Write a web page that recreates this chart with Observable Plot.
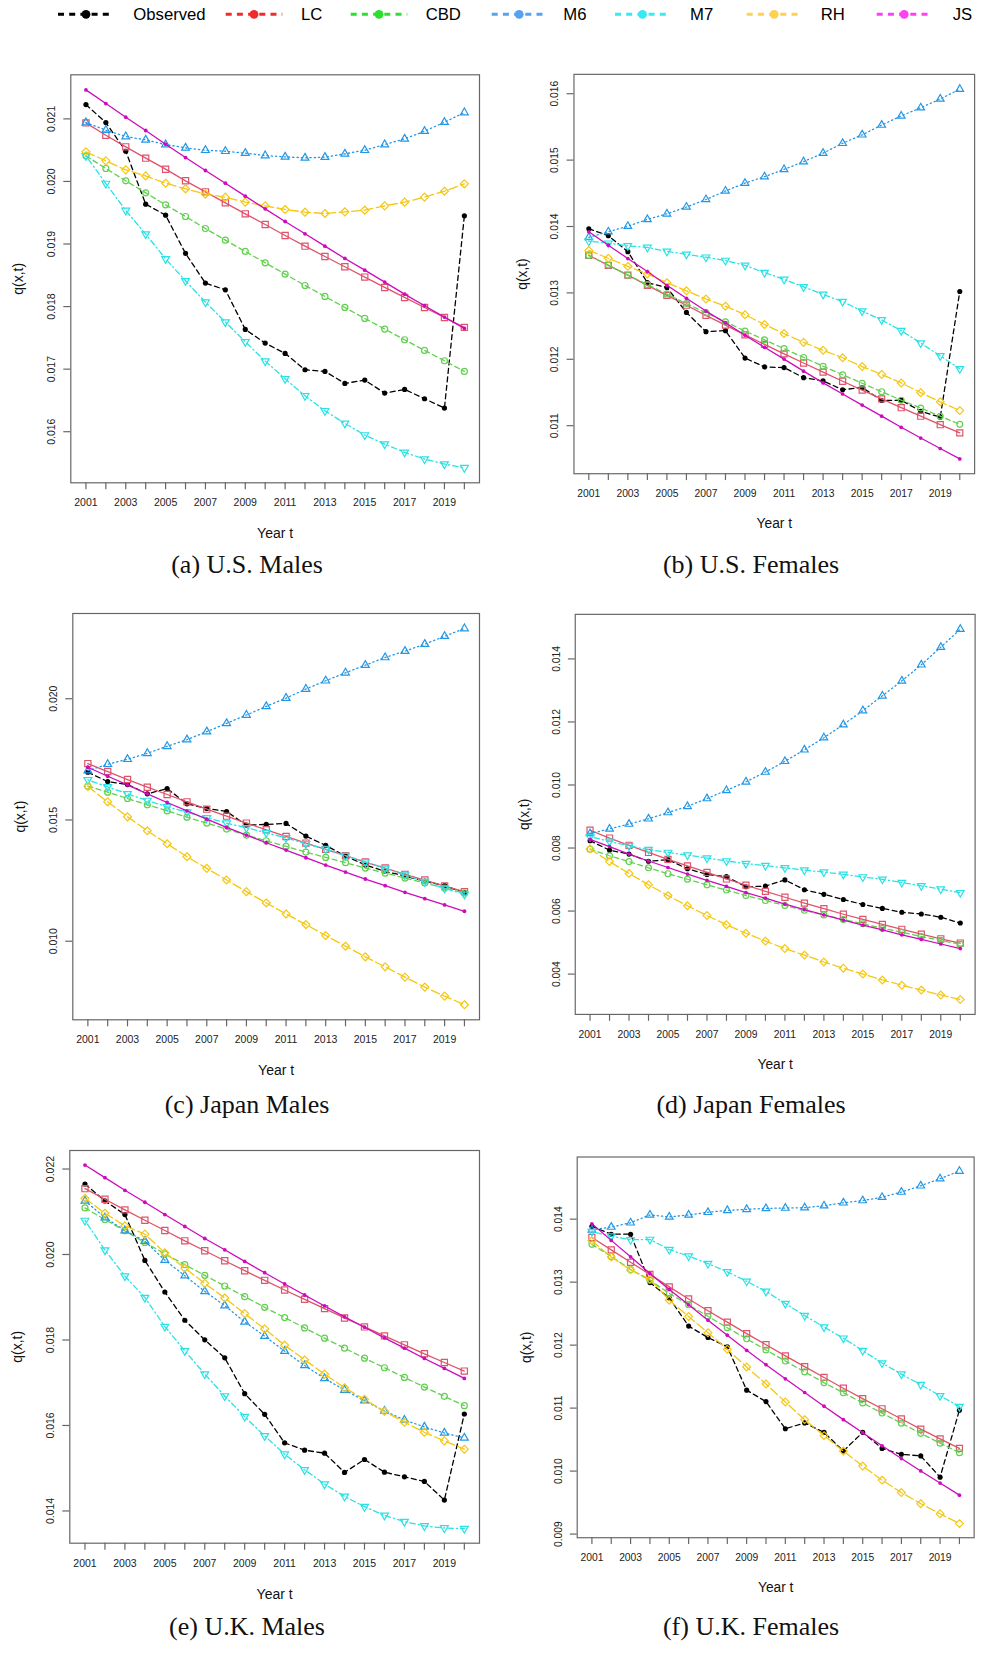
<!DOCTYPE html>
<html><head><meta charset="utf-8">
<script src="https://cdn.jsdelivr.net/npm/d3@7"></script>
<script src="https://cdn.jsdelivr.net/npm/@observablehq/plot@0.6"></script>
<style>
html,body{margin:0;padding:0;background:#fff;overflow:hidden;}
#page{position:relative;width:981px;height:1664px;overflow:hidden;background:#fff;font-family:"Liberation Sans",Arial,Helvetica,sans-serif;}
.panel{position:absolute;}
.caption{position:absolute;font-family:"Liberation Serif","Times New Roman",serif;font-size:26px;transform:translate(-50%,-50%);white-space:nowrap;color:#111;line-height:1;}
</style></head><body><div id="page"></div>
<script>
// ---------------- DATA ----------------
const years = [2001,2002,2003,2004,2005,2006,2007,2008,2009,2010,2011,2012,2013,2014,2015,2016,2017,2018,2019,2020];
const yearLabels = [2001,2003,2005,2007,2009,2011,2013,2015,2017,2019];
const seriesNames = ["Observed","LC","CBD","M6","M7","RH","JS"];

// (a) U.S. Males
const usm_Observed = [0.021229,0.020941,0.020483,0.019637,0.019461,0.018849,0.018375,0.018268,0.017635,0.017416,0.017251,0.016990,0.016964,0.016772,0.016825,0.016617,0.016676,0.016527,0.016378,0.019450];
const usm_LC  = [0.020936,0.020739,0.020553,0.020372,0.020196,0.020010,0.019834,0.019658,0.019482,0.019312,0.019136,0.018966,0.018801,0.018636,0.018471,0.018306,0.018146,0.017986,0.017826,0.017667];
const usm_CBD = [0.020409,0.020207,0.020010,0.019818,0.019626,0.019440,0.019248,0.019062,0.018881,0.018700,0.018519,0.018337,0.018162,0.017986,0.017810,0.017640,0.017470,0.017299,0.017134,0.016964];
const usm_M6  = [0.020941,0.020819,0.020718,0.020665,0.020590,0.020537,0.020499,0.020483,0.020452,0.020414,0.020393,0.020377,0.020388,0.020441,0.020499,0.020590,0.020681,0.020803,0.020947,0.021101];
const usm_M7  = [0.020409,0.019967,0.019536,0.019158,0.018763,0.018412,0.018071,0.017752,0.017438,0.017129,0.016846,0.016575,0.016335,0.016133,0.015947,0.015803,0.015670,0.015563,0.015483,0.015425];
const usm_RH  = [0.020473,0.020329,0.020185,0.020089,0.019972,0.019882,0.019797,0.019749,0.019669,0.019610,0.019552,0.019509,0.019488,0.019514,0.019541,0.019610,0.019669,0.019749,0.019844,0.019962];
const usm_JS  = [0.021463,0.021245,0.021027,0.020814,0.020595,0.020382,0.020175,0.019972,0.019765,0.019562,0.019360,0.019163,0.018966,0.018769,0.018582,0.018391,0.018199,0.018013,0.017832,0.017651];

// (b) U.S. Females
const usf_Observed = [0.013965,0.013862,0.013621,0.013154,0.013080,0.012706,0.012416,0.012431,0.012018,0.011885,0.011875,0.011723,0.011674,0.011541,0.011576,0.011379,0.011384,0.011217,0.011128,0.013021];
const usf_LC  = [0.013567,0.013414,0.013267,0.013114,0.012962,0.012814,0.012662,0.012515,0.012367,0.012224,0.012082,0.011944,0.011807,0.011669,0.011536,0.011404,0.011271,0.011143,0.011015,0.010892];
const usf_CBD = [0.013562,0.013419,0.013267,0.013124,0.012982,0.012839,0.012701,0.012564,0.012426,0.012293,0.012161,0.012028,0.011895,0.011767,0.011639,0.011512,0.011384,0.011266,0.011143,0.011020];
const usf_M6  = [0.013837,0.013921,0.014004,0.014107,0.014191,0.014294,0.014407,0.014535,0.014653,0.014751,0.014860,0.014977,0.015105,0.015253,0.015381,0.015528,0.015666,0.015789,0.015921,0.016069];
const usf_M7  = [0.013778,0.013748,0.013709,0.013685,0.013626,0.013581,0.013537,0.013488,0.013414,0.013306,0.013203,0.013090,0.012977,0.012869,0.012726,0.012593,0.012431,0.012244,0.012052,0.011856];
const usf_RH  = [0.013640,0.013522,0.013399,0.013286,0.013154,0.013031,0.012908,0.012800,0.012672,0.012524,0.012387,0.012254,0.012136,0.012023,0.011890,0.011772,0.011644,0.011497,0.011359,0.011227];
const usf_JS  = [0.013921,0.013719,0.013517,0.013321,0.013114,0.012918,0.012726,0.012549,0.012362,0.012180,0.012003,0.011821,0.011644,0.011477,0.011310,0.011143,0.010976,0.010814,0.010656,0.010499];

// (c) Japan Males
const jpm_Observed = [0.016968,0.016584,0.016461,0.016077,0.016296,0.015665,0.015473,0.015350,0.014788,0.014815,0.014856,0.014335,0.013951,0.013512,0.013141,0.012881,0.012689,0.012483,0.012291,0.012003];
const jpm_LC  = [0.017325,0.016996,0.016667,0.016351,0.016050,0.015748,0.015446,0.015158,0.014870,0.014595,0.014321,0.014047,0.013786,0.013526,0.013265,0.013018,0.012757,0.012524,0.012277,0.012044];
const jpm_CBD = [0.016392,0.016146,0.015885,0.015624,0.015377,0.015117,0.014870,0.014623,0.014376,0.014143,0.013910,0.013676,0.013457,0.013238,0.013018,0.012812,0.012606,0.012401,0.012195,0.011989];
const jpm_M6  = [0.017037,0.017298,0.017504,0.017750,0.018038,0.018313,0.018642,0.018985,0.019328,0.019684,0.020027,0.020398,0.020741,0.021070,0.021385,0.021701,0.021962,0.022250,0.022579,0.022894];
const jpm_M7  = [0.016653,0.016365,0.016077,0.015803,0.015542,0.015322,0.015089,0.014870,0.014678,0.014472,0.014266,0.014019,0.013800,0.013526,0.013265,0.013004,0.012730,0.012456,0.012181,0.011934];
const jpm_RH  = [0.016379,0.015748,0.015130,0.014554,0.014019,0.013484,0.013004,0.012524,0.012044,0.011578,0.011125,0.010686,0.010234,0.009795,0.009356,0.008944,0.008519,0.008107,0.007737,0.007380];
const jpm_JS  = [0.017174,0.016804,0.016447,0.016077,0.015720,0.015377,0.015034,0.014692,0.014376,0.014061,0.013759,0.013443,0.013141,0.012853,0.012565,0.012291,0.012017,0.011756,0.011495,0.011235];

// (d) Japan Females
const jpf_Observed = [0.008233,0.007932,0.007807,0.007579,0.007631,0.007341,0.007164,0.007092,0.006770,0.006791,0.006988,0.006677,0.006531,0.006365,0.006210,0.006085,0.005961,0.005909,0.005805,0.005619];
const jpf_LC  = [0.008565,0.008316,0.008087,0.007859,0.007641,0.007434,0.007226,0.007019,0.006822,0.006625,0.006438,0.006251,0.006075,0.005899,0.005733,0.005577,0.005422,0.005266,0.005121,0.004986];
const jpf_CBD = [0.007963,0.007755,0.007569,0.007372,0.007185,0.007009,0.006832,0.006666,0.006490,0.006334,0.006179,0.006023,0.005878,0.005733,0.005598,0.005453,0.005328,0.005193,0.005069,0.004944];
const jpf_M6  = [0.008461,0.008606,0.008762,0.008928,0.009125,0.009322,0.009571,0.009830,0.010100,0.010411,0.010753,0.011116,0.011500,0.011915,0.012361,0.012828,0.013305,0.013813,0.014373,0.014944];
const jpf_M7  = [0.008357,0.008212,0.008067,0.007953,0.007859,0.007776,0.007683,0.007589,0.007506,0.007444,0.007372,0.007299,0.007237,0.007164,0.007081,0.007009,0.006905,0.006801,0.006697,0.006583];
const jpf_RH  = [0.007973,0.007569,0.007195,0.006832,0.006490,0.006168,0.005857,0.005567,0.005297,0.005048,0.004810,0.004602,0.004384,0.004187,0.004001,0.003814,0.003648,0.003492,0.003337,0.003191];
const jpf_JS  = [0.008274,0.008046,0.007807,0.007589,0.007382,0.007175,0.006977,0.006780,0.006583,0.006407,0.006220,0.006044,0.005878,0.005712,0.005556,0.005401,0.005245,0.005100,0.004955,0.004810];

// (e) U.K. Males
const ukm_Observed = [0.021650,0.021254,0.020935,0.019862,0.019123,0.018462,0.018003,0.017583,0.016743,0.016261,0.015593,0.015422,0.015352,0.014901,0.015204,0.014908,0.014799,0.014691,0.014255,0.016269];
const ukm_LC  = [0.021541,0.021292,0.021044,0.020802,0.020561,0.020320,0.020087,0.019854,0.019621,0.019395,0.019170,0.018952,0.018734,0.018516,0.018306,0.018096,0.017886,0.017677,0.017474,0.017272];
const ukm_CBD = [0.021090,0.020818,0.020554,0.020282,0.020017,0.019761,0.019512,0.019263,0.019014,0.018765,0.018524,0.018283,0.018042,0.017809,0.017575,0.017350,0.017124,0.016899,0.016681,0.016463];
const ukm_M6  = [0.021254,0.020865,0.020561,0.020313,0.019869,0.019504,0.019138,0.018804,0.018423,0.018089,0.017739,0.017404,0.017101,0.016829,0.016580,0.016339,0.016129,0.015966,0.015826,0.015709];
const ukm_M7  = [0.020795,0.020103,0.019496,0.018991,0.018314,0.017747,0.017202,0.016689,0.016207,0.015756,0.015328,0.014963,0.014628,0.014341,0.014100,0.013897,0.013750,0.013649,0.013602,0.013586];
const ukm_RH  = [0.021316,0.020966,0.020670,0.020476,0.020040,0.019683,0.019325,0.018983,0.018617,0.018260,0.017879,0.017537,0.017202,0.016883,0.016611,0.016331,0.016075,0.015841,0.015639,0.015445];
const ukm_JS  = [0.022093,0.021798,0.021502,0.021222,0.020935,0.020655,0.020375,0.020110,0.019838,0.019574,0.019310,0.019053,0.018796,0.018540,0.018299,0.018050,0.017809,0.017568,0.017334,0.017101];

// (f) U.K. Females
const ukf_Observed = [0.013886,0.013761,0.013761,0.012993,0.012749,0.012302,0.012120,0.011975,0.011285,0.011103,0.010672,0.010765,0.010615,0.010319,0.010615,0.010360,0.010267,0.010241,0.009904,0.010968];
const ukf_LC  = [0.013709,0.013512,0.013315,0.013123,0.012925,0.012733,0.012546,0.012365,0.012183,0.012006,0.011830,0.011658,0.011487,0.011316,0.011150,0.010989,0.010828,0.010667,0.010511,0.010360];
const ukf_CBD = [0.013600,0.013408,0.013200,0.013029,0.012821,0.012640,0.012458,0.012276,0.012100,0.011923,0.011747,0.011575,0.011404,0.011243,0.011082,0.010921,0.010760,0.010599,0.010443,0.010293];
const ukf_M6  = [0.013829,0.013875,0.013943,0.014067,0.014036,0.014067,0.014109,0.014140,0.014156,0.014171,0.014177,0.014182,0.014213,0.014260,0.014296,0.014348,0.014431,0.014530,0.014644,0.014763];
const ukf_M7  = [0.013803,0.013730,0.013673,0.013678,0.013517,0.013413,0.013294,0.013164,0.013014,0.012853,0.012660,0.012468,0.012287,0.012110,0.011913,0.011716,0.011539,0.011373,0.011196,0.011025];
const ukf_RH  = [0.013657,0.013398,0.013195,0.013050,0.012712,0.012453,0.012198,0.011934,0.011653,0.011383,0.011098,0.010817,0.010563,0.010319,0.010080,0.009857,0.009659,0.009483,0.009322,0.009166];
const ukf_JS  = [0.013927,0.013663,0.013403,0.013138,0.012884,0.012640,0.012396,0.012157,0.011918,0.011690,0.011466,0.011248,0.011030,0.010817,0.010610,0.010402,0.010199,0.010002,0.009810,0.009618];

// y tick values per panel
const ticks_usm = [0.016,0.017,0.018,0.019,0.020,0.021];
const ticks_usf = [0.011,0.012,0.013,0.014,0.015,0.016];
const ticks_jpm = [0.010,0.015,0.020];
const ticks_jpf = [0.004,0.006,0.008,0.010,0.012,0.014];
const ticks_ukm = [0.014,0.016,0.018,0.020,0.022];
const ticks_ukf = [0.009,0.010,0.011,0.012,0.013,0.014];

const captions = ["(a) U.S. Males","(b) U.S. Females","(c) Japan Males","(d) Japan Females","(e) U.K. Males","(f) U.K. Females"];

// ---------------- STYLE ----------------
const lineColors   = ["#000000","#DF536B","#61D04F","#2297E6","#28E2E5","#F5C710","#CD0BBC"];
const legendColors = ["#000000","#f22a2a","#2ee02e","#56a2ee","#35e9f5","#ffd150","#ff40f0"];
const dashes = ["5,3.5", null, "5,3.5", "1.3,3", "1.3,3,5.5,3", "9,3.5", null];

const symSquare = {draw(c, size){ const h = Math.sqrt(size/Math.PI); c.moveTo(-h,-h); c.lineTo(h,-h); c.lineTo(h,h); c.lineTo(-h,h); c.closePath(); }};
const symTriUp = {draw(c, size){ const h = Math.sqrt(size/Math.PI); c.moveTo(0,-1.555*h); c.lineTo(1.3468*h,0.7776*h); c.lineTo(-1.3468*h,0.7776*h); c.closePath(); }};
const symTriDown = {draw(c, size){ const h = Math.sqrt(size/Math.PI); c.moveTo(0,1.555*h); c.lineTo(1.3468*h,-0.7776*h); c.lineTo(-1.3468*h,-0.7776*h); c.closePath(); }};
const symDiamond = {draw(c, size){ const h = Math.sqrt(size/Math.PI)*1.4142; c.moveTo(0,-h); c.lineTo(h,0); c.lineTo(0,h); c.lineTo(-h,0); c.closePath(); }};
const pointStyles = [
  {symbol:"circle", r:2.6, fill:"#000000", stroke:"none"},
  {symbol:symSquare, r:3.1, fill:"none"},
  {symbol:"circle", r:3.0, fill:"none"},
  {symbol:symTriUp, r:2.9, fill:"none"},
  {symbol:symTriDown, r:2.9, fill:"none"},
  {symbol:symDiamond, r:2.8, fill:"none"},
  {symbol:"circle", r:1.9, fill:"#CD0BBC", stroke:"none"}
];

const panels = [
  {series:[usm_Observed,usm_LC,usm_CBD,usm_M6,usm_M7,usm_RH,usm_JS], ticks:ticks_usm, left:0,   top:50,   width:490, box:[70.3,74.3,479,482.3], cap:[247,565]},
  {series:[usf_Observed,usf_LC,usf_CBD,usf_M6,usf_M7,usf_RH,usf_JS], ticks:ticks_usf, left:490, top:50,   width:500, box:[575,74.3,983,481], cap:[751,565]},
  {series:[jpm_Observed,jpm_LC,jpm_CBD,jpm_M6,jpm_M7,jpm_RH,jpm_JS], ticks:ticks_jpm, left:0,   top:590,  width:490, box:[72.3,613,479,1019.3], cap:[247,1104.5]},
  {series:[jpf_Observed,jpf_LC,jpf_CBD,jpf_M6,jpf_M7,jpf_RH,jpf_JS], ticks:ticks_jpf, left:490, top:590,  width:500, box:[576.3,614.3,983.5,1021.7], cap:[751,1104.5]},
  {series:[ukm_Observed,ukm_LC,ukm_CBD,ukm_M6,ukm_M7,ukm_RH,ukm_JS], ticks:ticks_ukm, left:0,   top:1130, width:490, box:[69.3,1150,479,1542.7], cap:[247,1627]},
  {series:[ukf_Observed,ukf_LC,ukf_CBD,ukf_M6,ukf_M7,ukf_RH,ukf_JS], ticks:ticks_ukf, left:490, top:1130, width:500, box:[578.3,1157,982.5,1544.7], cap:[751,1627]}
];

const page = document.getElementById("page");
const fmt = d3.format(".3f");
const axisGray = "#666";
const textCol = "#222";

panels.forEach((p, k) => {
  const [bL,bT,bR,bB] = p.box;
  const height = Math.round(bB - p.top + 64);
  const all = p.series.flat();
  const [lo, hi] = d3.extent(all);
  const pad = (hi - lo) * 0.04;
  const marks = [
    Plot.frame({stroke: axisGray, strokeWidth: 1.2}),
    Plot.axisX({ticks: years, tickSize: 7, tickFormat: () => "", stroke: axisGray, strokeWidth: 1.2, label: null}),
    Plot.axisY({ticks: p.ticks, tickSize: 7, tickFormat: () => "", stroke: axisGray, strokeWidth: 1.2, label: null}),
    Plot.text(yearLabels, {x: d => d, frameAnchor: "bottom", dy: 20.3, text: d => String(d), fontSize: 10.5, fill: textCol, lineAnchor: "middle"}),
    Plot.text(p.ticks, {y: d => d, frameAnchor: "left", dx: -19.2, rotate: -90, text: d => fmt(d), fontSize: 10.5, fill: textCol, textAnchor: "middle", lineAnchor: "middle"}),
    Plot.text(["Year t"], {frameAnchor: "bottom", dy: 51, fontSize: 14, fill: "#111", lineAnchor: "middle"}),
    Plot.text(["q(x,t)"], {frameAnchor: "left", dx: -52, rotate: -90, fontSize: 14, fill: "#111", lineAnchor: "middle", textAnchor: "middle"})
  ];
  p.series.forEach((vals, si) => {
    const rows = vals.map((v, i) => ({year: years[i], value: v}));
    const lineOpts = {x: "year", y: "value", stroke: lineColors[si], strokeWidth: 1.3};
    if (dashes[si]) lineOpts.strokeDasharray = dashes[si];
    marks.push(Plot.line(rows, lineOpts));
    const ps = pointStyles[si];
    const dotOpts = {x: "year", y: "value", symbol: ps.symbol, r: ps.r, fill: ps.fill, stroke: ps.stroke === "none" ? "none" : lineColors[si], strokeWidth: 1.2};
    marks.push(Plot.dot(rows, dotOpts));
  });
  const chart = Plot.plot({
    width: p.width,
    height: height,
    marginLeft: bL - p.left,
    marginRight: (p.left + p.width) - bR,
    marginTop: bT - p.top,
    marginBottom: (p.top + height) - bB,
    x: {domain: [2001 - 0.76, 2020 + 0.76]},
    y: {domain: [lo - pad, hi + pad]},
    style: {fontFamily: '"Liberation Sans", Arial, Helvetica, sans-serif', background: "transparent", overflow: "visible"},
    marks
  });
  const div = document.createElement("div");
  div.className = "panel";
  div.style.left = p.left + "px";
  div.style.top = p.top + "px";
  div.appendChild(chart);
  page.appendChild(div);

  const cap = document.createElement("div");
  cap.className = "caption";
  cap.style.left = p.cap[0] + "px";
  cap.style.top = p.cap[1] + "px";
  cap.textContent = captions[k];
  page.appendChild(cap);
});

// ---------------- LEGEND ----------------
const legendLayout = [
  {x1:58, x2:114, tx:133.3},
  {x1:225.7, x2:282.3, tx:301},
  {x1:350.7, x2:407.3, tx:425.7},
  {x1:491.7, x2:546.7, tx:563.3},
  {x1:615, x2:670, tx:690},
  {x1:746.7, x2:801.7, tx:820.7},
  {x1:876.7, x2:931.7, tx:952.7}
];
const lg = d3.select(page).append("svg")
  .attr("width", 981).attr("height", 30)
  .style("position", "absolute").style("left", "0px").style("top", "0px");
const ly = 14.3;
seriesNames.forEach((name, i) => {
  const L = legendLayout[i];
  lg.append("line").attr("x1", L.x1).attr("x2", L.x2).attr("y1", ly).attr("y2", ly)
    .attr("stroke", legendColors[i]).attr("stroke-width", 3).attr("stroke-dasharray", "6,5.2");
  lg.append("circle").attr("cx", (L.x1 + L.x2) / 2).attr("cy", ly).attr("r", 4.4).attr("fill", legendColors[i]);
  lg.append("text").attr("x", L.tx).attr("y", ly).attr("dy", "0.36em")
    .attr("font-family", '"Liberation Sans", Arial, Helvetica, sans-serif').attr("font-size", 16.7)
    .attr("fill", "#000").text(name);
});
</script></body></html>
